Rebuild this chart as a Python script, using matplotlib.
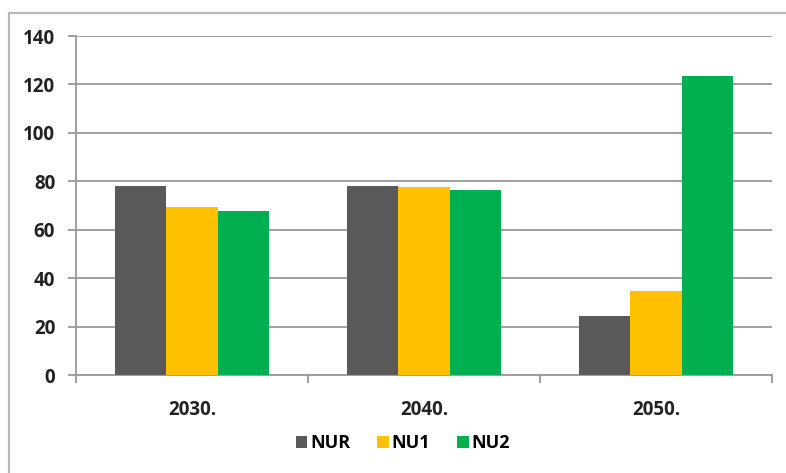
import matplotlib
matplotlib.use("Agg")
import matplotlib.pyplot as plt
from matplotlib.patches import Rectangle
import numpy as np

categories = ["2030.", "2040.", "2050."]
series_names = ["NUR", "NU1", "NU2"]
nur = [78.0, 78.2, 24.4]
nu1 = [69.4, 77.8, 34.8]
nu2 = [67.8, 76.4, 123.5]
y_ticks = [0, 20, 40, 60, 80, 100, 120, 140]
colors = ["#595959", "#FFC000", "#00B050"]

plt.rcParams["font.family"] = ["Open Sans", "DejaVu Sans"]

fig = plt.figure(figsize=(7.86, 4.73), dpi=100)
ax = fig.add_axes([76 / 786, 1 - 375 / 473, 696 / 786, 339 / 473])

# outer chart border (runs off the right and bottom edges)
fig.patches.append(Rectangle((9 / 786, -0.1), 1.2, 1 - 13 / 473 + 0.1,
                             transform=fig.transFigure, fill=False,
                             edgecolor="#b8b8b8", linewidth=1.6, zorder=0))

x = np.arange(len(categories))
w = 0.222
for i, (vals, name) in enumerate(zip([nur, nu1, nu2], series_names)):
    ax.bar(x + (i - 1) * w, vals, width=w, color=colors[i], label=name, zorder=3)

ax.set_xlim(-0.5, len(categories) - 0.5)
ax.set_ylim(0, 140)
ax.set_yticks(y_ticks)
ax.set_yticklabels([str(t) for t in y_ticks], fontsize=13.5, fontweight="bold", color="#222222")
ax.set_xticks(x)
ax.set_xticklabels(categories, fontsize=13.5, fontweight="bold", color="#222222")
ax.set_xticks(np.arange(len(categories) + 1) - 0.5, minor=True)
ax.tick_params(axis="x", which="major", length=0, pad=18)
ax.tick_params(axis="x", which="minor", length=6, color="#999999", width=1.3, direction="out")
ax.tick_params(axis="y", length=6, color="#999999", width=1.3, pad=9)

ax.yaxis.grid(True, color="#a0a0a0", linewidth=1.4, zorder=0)
ax.set_axisbelow(True)
for s in ["top", "right"]:
    ax.spines[s].set_visible(False)
for s in ["left", "bottom"]:
    ax.spines[s].set_color("#999999")
    ax.spines[s].set_linewidth(1.3)

leg = fig.legend(loc="center", bbox_to_anchor=(403 / 786, 1 - 443 / 473), ncol=3,
                 frameon=False, handlelength=0.65, handleheight=0.65,
                 handletextpad=0.15, columnspacing=1.5,
                 prop={"weight": "bold", "size": 13})

fig.savefig("out.png", dpi=100, facecolor="white")
